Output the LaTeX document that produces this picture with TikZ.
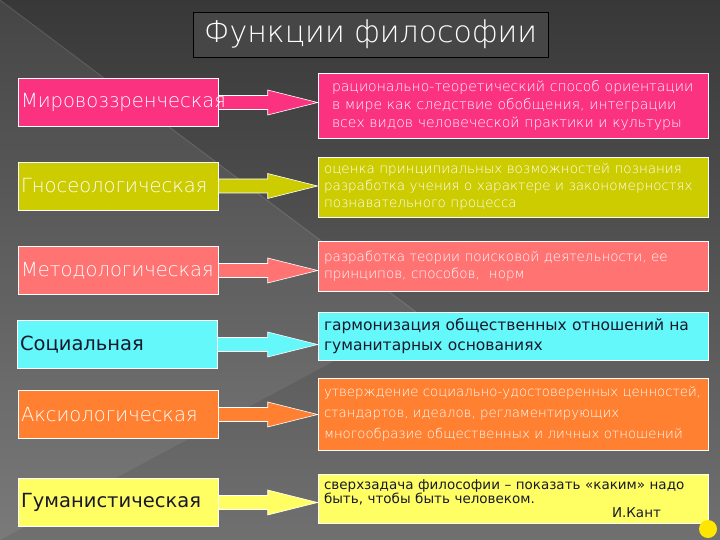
\documentclass[tikz,border=0pt]{standalone}
\usepackage{fontspec}
\setmainfont{DejaVu Sans}
\newfontfamily\thinfont{DejaVu Sans ExtraLight}
\usetikzlibrary{calc, backgrounds}

\definecolor{bgTop}{RGB}{56,56,56}
\definecolor{bgBottom}{RGB}{112,112,112}
\definecolor{titleGray}{RGB}{70,70,70}
\definecolor{worldPink}{RGB}{250,50,128}
\definecolor{gnoseoOlive}{RGB}{204,204,0}
\definecolor{methodSalmon}{RGB}{255,115,115}
\definecolor{socialCyan}{RGB}{100,248,250}
\definecolor{axioOrange}{RGB}{255,128,48}
\definecolor{humanYellow}{RGB}{255,255,100}
\definecolor{dotYellow}{RGB}{255,230,0}
\definecolor{darkText}{RGB}{25,25,45}

\begin{document}
\begin{tikzpicture}[
        x=1pt, y=-1pt,
        % left column: the functions
        funcbox/.style={
            rectangle, draw=white, line width=0.6pt,
            minimum width=200pt, minimum height=48pt,
            text width=194pt, inner xsep=3pt, align=left, text=white,
            font=\thinfont\fontsize{19.5}{22}\selectfont
        },
        % right column: what each function does
        descbox/.style={
            rectangle, draw=white, line width=0.6pt,
            minimum width=390pt, text width=378pt, inner xsep=6pt,
            align=left, text=white
        }
    ]
        \useasboundingbox (0,0) rectangle (720,540);

        % ==========================
        % TITLE
        % ==========================
        \node[draw=black, fill=titleGray, minimum width=355pt, minimum height=45pt,
              text=white, font=\thinfont\fontsize{30}{34}\selectfont]
              (title) at (370.5,34.5) {Функции философии};

        % ==========================
        % FUNCTIONS (LEFT)
        % ==========================
        \node[funcbox, fill=worldPink]    (world)  at (118,102.5) {Мировоззренческая};
        \node[funcbox, fill=gnoseoOlive]  (gnoseo) at (118,186)   {Гносеологическая};
        \node[funcbox, fill=methodSalmon] (method) at (118,270.5) {Методологическая};
        \node[funcbox, fill=socialCyan, text=darkText, font=\fontsize{19.5}{22}\selectfont]
              (social) at (117,344.5) {Социальная};
        \node[funcbox, fill=axioOrange]   (axio)   at (118,414.5) {Аксиологическая};
        \node[funcbox, fill=humanYellow, text=darkText, font=\fontsize{19.5}{22}\selectfont]
              (human)  at (118,502.5) {Гуманистическая};

        % ==========================
        % DESCRIPTIONS (RIGHT)
        % ==========================
        \node[descbox, fill=worldPink, minimum height=65pt, inner xsep=14pt, text width=362pt,
              font=\thinfont\fontsize{14}{18}\selectfont]
              (worldDesc) at (513,105.5)
              {рационально-теоретический способ ориентации\\
               в мире как следствие обобщения, интеграции\\
               всех видов человеческой практики и культуры};
        \node[descbox, fill=gnoseoOlive, minimum height=60pt,
              font=\thinfont\fontsize{13.5}{17}\selectfont]
              (gnoseoDesc) at (513,187)
              {оценка принципиальных возможностей познания\\
               разработка учения о характере и закономерностях\\
               познавательного процесса};
        \node[descbox, fill=methodSalmon, minimum height=50pt,
              font=\thinfont\fontsize{13.5}{17}\selectfont]
              (methodDesc) at (513,266)
              {разработка теории поисковой деятельности, ее\\
               принципов, способов,~ норм};
        \node[descbox, fill=socialCyan, minimum height=48pt, text=darkText,
              font=\fontsize{15.5}{20}\selectfont]
              (socialDesc) at (513,336)
              {гармонизация общественных отношений на\\
               гуманитарных основаниях};
        \node[descbox, fill=axioOrange, minimum height=72pt,
              font=\thinfont\fontsize{13.3}{21}\selectfont]
              (axioDesc) at (513,414)
              {утверждение социально-удостоверенных ценностей,\\
               стандартов, идеалов, регламентирующих\\
               многообразие общественных и личных отношений};
        \node[descbox, fill=humanYellow, minimum height=49pt, text=darkText,
              font=\fontsize{13.5}{14}\selectfont]
              (humanDesc) at (513,498.5)
              {сверхзадача философии – показать «каким» надо\\
               быть, чтобы быть человеком.\\
               \hspace*{288pt}И.Кант};

        % ==========================
        % BACKGROUND AND BLOCK ARROWS
        % ==========================
        \begin{scope}[on background layer]
            \shade[top color=bgTop, bottom color=bgBottom] (0,0) rectangle (720,540);
            \fill[white, opacity=0.07] (0,0) -- (420,315) -- (0,540) -- cycle;
            \draw[white, opacity=0.12, line width=1pt] (0,0) -- (420,315);
            \foreach \from/\to/\col in {world/worldDesc/worldPink, gnoseo/gnoseoDesc/gnoseoOlive,
                    method/methodDesc/methodSalmon, social/socialDesc/socialCyan,
                    axio/axioDesc/axioOrange, human/humanDesc/humanYellow}
                \fill[\col, draw=white, line width=0.6pt]
                    let \p1=(\from.east), \p2=(\to.west) in
                    (\x1,\y1+7pt) -- (\x2-50pt,\y1+7pt) -- (\x2-50pt,\y1+12.5pt) -- (\x2,\y1)
                    -- (\x2-50pt,\y1-12.5pt) -- (\x2-50pt,\y1-7pt) -- (\x1,\y1-7pt) -- cycle;
        \end{scope}

        % corner dot
        \fill[dotYellow] (708,529) circle[radius=9pt];

    \end{tikzpicture}
\end{document}
